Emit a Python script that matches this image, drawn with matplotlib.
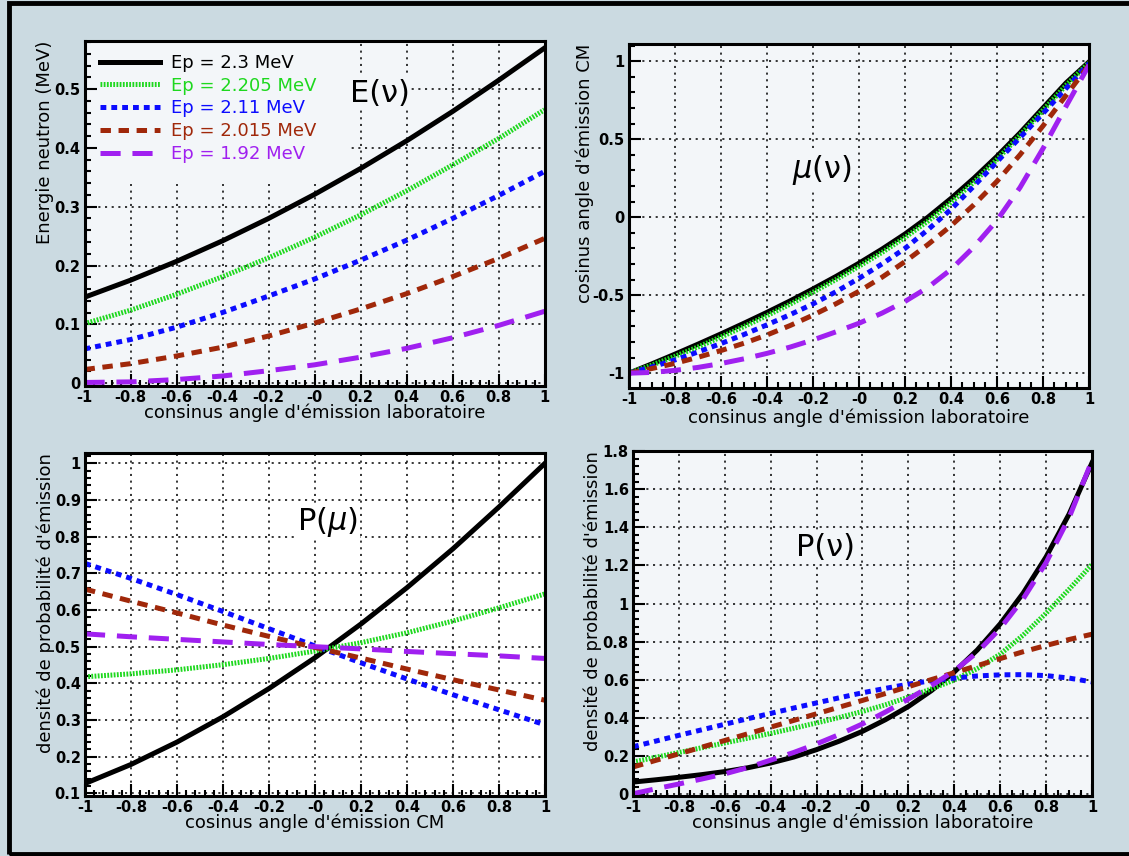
import numpy as np
import matplotlib
matplotlib.use("Agg")
import matplotlib.pyplot as plt
from matplotlib.ticker import MultipleLocator
from matplotlib.patches import Rectangle

plt.rcParams['lines.scale_dashes'] = False

# ---- data ----
ep_labels = ['Ep = 2.3 MeV', 'Ep = 2.205 MeV', 'Ep = 2.11 MeV', 'Ep = 2.015 MeV', 'Ep = 1.92 MeV']

# E(nu): neutron energy vs lab cosine
x_e = [-1, -0.8, -0.6, -0.4, -0.2, 0, 0.2, 0.4, 0.6, 0.8, 1]
e_230 = [0.146, 0.175, 0.207, 0.242, 0.280, 0.321, 0.365, 0.412, 0.462, 0.515, 0.570]
e_2205 = [0.101, 0.124, 0.151, 0.181, 0.213, 0.248, 0.286, 0.327, 0.371, 0.416, 0.465]
e_211 = [0.058, 0.074, 0.095, 0.120, 0.148, 0.177, 0.209, 0.243, 0.280, 0.319, 0.360]
e_2015 = [0.023, 0.033, 0.046, 0.061, 0.080, 0.102, 0.126, 0.152, 0.181, 0.212, 0.246]
e_192 = [0.001, 0.002, 0.006, 0.012, 0.021, 0.031, 0.044, 0.059, 0.077, 0.098, 0.122]

# mu(nu): CM cosine vs lab cosine
x_mu = [-1, -0.9, -0.8, -0.7, -0.6, -0.5, -0.4, -0.3, -0.2, -0.1, 0,
        0.1, 0.2, 0.3, 0.4, 0.5, 0.6, 0.7, 0.8, 0.9, 1]
mu_230 = [-1, -0.94, -0.878, -0.814, -0.748, -0.68, -0.61, -0.537, -0.46, -0.38, -0.295,
          -0.205, -0.108, 0.0, 0.12, 0.25, 0.39, 0.54, 0.70, 0.86, 0.995]
mu_2205 = [-1, -0.948, -0.892, -0.832, -0.768, -0.701, -0.631, -0.558, -0.481, -0.40, -0.315,
           -0.226, -0.13, -0.025, 0.095, 0.225, 0.37, 0.525, 0.685, 0.845, 0.99]
mu_211 = [-1, -0.96, -0.915, -0.864, -0.81, -0.752, -0.69, -0.625, -0.556, -0.478, -0.392,
          -0.30, -0.20, -0.08, 0.05, 0.20, 0.355, 0.51, 0.665, 0.825, 0.985]
mu_2015 = [-1, -0.97, -0.937, -0.898, -0.855, -0.808, -0.755, -0.695, -0.628, -0.555, -0.475,
           -0.385, -0.285, -0.175, -0.055, 0.08, 0.23, 0.40, 0.585, 0.78, 0.975]
mu_192 = [-1, -0.995, -0.982, -0.963, -0.938, -0.908, -0.873, -0.833, -0.787, -0.735, -0.68,
          -0.615, -0.54, -0.45, -0.335, -0.19, -0.02, 0.19, 0.44, 0.71, 0.975]

# P(mu): probability density vs CM cosine
x_pmu = [-1, -0.8, -0.6, -0.4, -0.2, 0, 0.2, 0.4, 0.6, 0.8, 1]
pmu_230 = [0.127, 0.179, 0.240, 0.309, 0.386, 0.470, 0.562, 0.661, 0.767, 0.881, 1.0]
pmu_2205 = [0.418, 0.426, 0.437, 0.451, 0.468, 0.488, 0.511, 0.538, 0.570, 0.606, 0.644]
pmu_211 = [0.727, 0.686, 0.642, 0.596, 0.549, 0.502, 0.456, 0.412, 0.369, 0.328, 0.287]
pmu_2015 = [0.657, 0.624, 0.592, 0.559, 0.528, 0.498, 0.469, 0.439, 0.410, 0.382, 0.354]
pmu_192 = [0.535, 0.527, 0.520, 0.513, 0.506, 0.500, 0.494, 0.487, 0.481, 0.475, 0.468]

# P(nu): probability density vs lab cosine
x_pnu = [-1, -0.9, -0.8, -0.7, -0.6, -0.5, -0.4, -0.3, -0.2, -0.1, 0,
         0.1, 0.2, 0.3, 0.4, 0.5, 0.6, 0.7, 0.8, 0.9, 1]
pnu_230 = [0.065, 0.077, 0.09, 0.104, 0.12, 0.14, 0.165, 0.196, 0.235, 0.28, 0.331,
           0.392, 0.461, 0.544, 0.642, 0.757, 0.894, 1.055, 1.245, 1.469, 1.738]
pnu_2205 = [0.17, 0.195, 0.22, 0.245, 0.27, 0.295, 0.32, 0.347, 0.375, 0.404, 0.435,
            0.47, 0.51, 0.553, 0.60, 0.66, 0.735, 0.835, 0.95, 1.075, 1.205]
pnu_211 = [0.25, 0.28, 0.31, 0.339, 0.368, 0.397, 0.425, 0.453, 0.48, 0.507, 0.533,
           0.556, 0.578, 0.596, 0.61, 0.621, 0.627, 0.628, 0.623, 0.61, 0.59]
pnu_2015 = [0.144, 0.179, 0.213, 0.248, 0.283, 0.318, 0.353, 0.388, 0.423, 0.458, 0.493,
            0.529, 0.565, 0.602, 0.638, 0.675, 0.712, 0.748, 0.781, 0.812, 0.84]
pnu_192 = [0.004, 0.03, 0.055, 0.081, 0.108, 0.141, 0.18, 0.22, 0.265, 0.315, 0.37,
           0.432, 0.50, 0.57, 0.648, 0.745, 0.87, 1.025, 1.215, 1.45, 1.75]

x_ticks = [-1, -0.8, -0.6, -0.4, -0.2, 0, 0.2, 0.4, 0.6, 0.8, 1]
x_ticklabels = ['-1', '-0.8', '-0.6', '-0.4', '-0.2', '-0', '0.2', '0.4', '0.6', '0.8', '1']

# ---- styles ----
colors = ['black', '#1ed81e', '#0c0cff', '#a0280a', '#a020f0']
styles = ['-', (0, (1.3, 1.0)), (0, (4.2, 3.6)), (0, (7.5, 5.5)), (0, (14.5, 8.5))]
bg_fig = '#cbdae1'
bg_ax = '#f3f6f9'
label_font = 'DejaVu Sans'
tick_size = 10.5

fig = plt.figure(figsize=(11.29, 8.56), dpi=100)
fig.patch.set_facecolor(bg_fig)


def setup(rect, bg, ylim, yticks, yticklabels, yminor, xminor, xlabel, ylabel, ylab_x, xlab_y):
    ax = fig.add_axes(rect)
    ax.set_facecolor(bg)
    ax.set_xlim(-1, 1)
    ax.set_ylim(*ylim)
    ax.set_xticks(x_ticks)
    ax.set_xticklabels(x_ticklabels, fontweight='bold', fontsize=tick_size)
    ax.set_yticks(yticks)
    ax.set_yticklabels(yticklabels, fontweight='bold', fontsize=tick_size)
    ax.xaxis.set_minor_locator(MultipleLocator(xminor))
    ax.yaxis.set_minor_locator(MultipleLocator(yminor))
    ax.tick_params(which='both', direction='in', top=False, right=False, width=1.5, pad=3)
    ax.tick_params(which='major', length=8.5)
    ax.tick_params(which='minor', length=4.5)
    for sp in ax.spines.values():
        sp.set_linewidth(2.2)
    ax.grid(True, which='major', color='black', linestyle=(0, (1.5, 3.3)), linewidth=1.1)
    ax.set_xlabel(xlabel, fontsize=13, family=label_font, va='center')
    ax.xaxis.set_label_coords(0.5, xlab_y)
    ax.set_ylabel(ylabel, fontsize=13, family=label_font, loc='top', va='center')
    ax.yaxis.set_label_coords(ylab_x, 1.0)
    return ax


def draw(ax, x, series, lbls=None):
    for i, y in enumerate(series):
        ax.plot(x, y, color=colors[i], linestyle=styles[i], linewidth=3.6,
                label=lbls[i] if lbls else None)


lab_lab = "consinus angle d'émission laboratoire"
dens_lab = "densité de probabilité d'émission"

# top left : E(nu)
ax1 = setup([0.07485, 0.54907, 0.40744, 0.40304], bg_ax, (-0.005, 0.582),
            [0, 0.1, 0.2, 0.3, 0.4, 0.5], ['0', '0.1', '0.2', '0.3', '0.4', '0.5'],
            0.02, 0.04, lab_lab, 'Energie neutron (MeV)', -0.086, -0.078)
draw(ax1, x_e, [e_230, e_2205, e_211, e_2015, e_192], ep_labels)
ax1.add_patch(Rectangle((0.03, 0.585), 0.55, 0.41, transform=ax1.transAxes,
                        facecolor=bg_ax, edgecolor='none', zorder=1.8))
ax1.legend(loc='upper left', bbox_to_anchor=(0.034, 0.962), borderaxespad=0, borderpad=0,
           frameon=False, prop={'family': label_font, 'size': 13}, handlelength=3.3,
           handletextpad=0.65, labelspacing=0.26, labelcolor='linecolor')
ax1.text(0.642, 0.849, 'E(ν)', transform=ax1.transAxes, fontsize=22, ha='center', va='center',
         bbox=dict(facecolor=bg_ax, edgecolor='none', pad=1))

# top right : mu(nu)
ax2 = setup([0.55713, 0.54673, 0.40744, 0.40187], bg_ax, (-1.095, 1.11),
            [-1, -0.5, 0, 0.5, 1], ['-1', '-0.5', '0', '0.5', '1'],
            0.1, 0.05, lab_lab, "cosinus angle d'émission CM", -0.097, -0.087)
draw(ax2, x_mu, [mu_230, mu_2205, mu_211, mu_2015, mu_192])
ax2.text(0.42, 0.634, r'$\mu$(ν)', transform=ax2.transAxes, fontsize=22, ha='center', va='center',
         bbox=dict(facecolor=bg_ax, edgecolor='none', pad=1))

# bottom left : P(mu)
ax3 = setup([0.07529, 0.07009, 0.40744, 0.40070], 'white', (0.093, 1.028),
            [0.1, 0.2, 0.3, 0.4, 0.5, 0.6, 0.7, 0.8, 0.9, 1.0],
            ['0.1', '0.2', '0.3', '0.4', '0.5', '0.6', '0.7', '0.8', '0.9', '1'],
            0.02, 0.04, "cosinus angle d'émission CM", dens_lab, -0.086, -0.079)
draw(ax3, x_pmu, [pmu_230, pmu_2205, pmu_211, pmu_2015, pmu_192])
ax3.text(0.528, 0.799, r'P($\mu$)', transform=ax3.transAxes, fontsize=22, ha='center', va='center',
         bbox=dict(facecolor='white', edgecolor='none', pad=1))

# bottom right : P(nu)
ax4 = setup([0.56067, 0.07009, 0.40655, 0.40304], bg_ax, (-0.008, 1.8),
            [0, 0.2, 0.4, 0.6, 0.8, 1.0, 1.2, 1.4, 1.6, 1.8],
            ['0', '0.2', '0.4', '0.6', '0.8', '1', '1.2', '1.4', '1.6', '1.8'],
            0.04, 0.05, lab_lab, dens_lab, -0.087, -0.078)
draw(ax4, x_pnu, [pnu_230, pnu_2205, pnu_211, pnu_2015, pnu_192])
ax4.text(0.42, 0.719, 'P(ν)', transform=ax4.transAxes, fontsize=22, ha='center', va='center',
         bbox=dict(facecolor=bg_ax, edgecolor='none', pad=1))

# outer canvas frame
fig.add_artist(Rectangle((0.00753, 0.0023), 1.0, 0.9942, transform=fig.transFigure,
                         fill=False, edgecolor='black', linewidth=3.5))

fig.savefig('out.png', dpi=100, facecolor=fig.get_facecolor())
